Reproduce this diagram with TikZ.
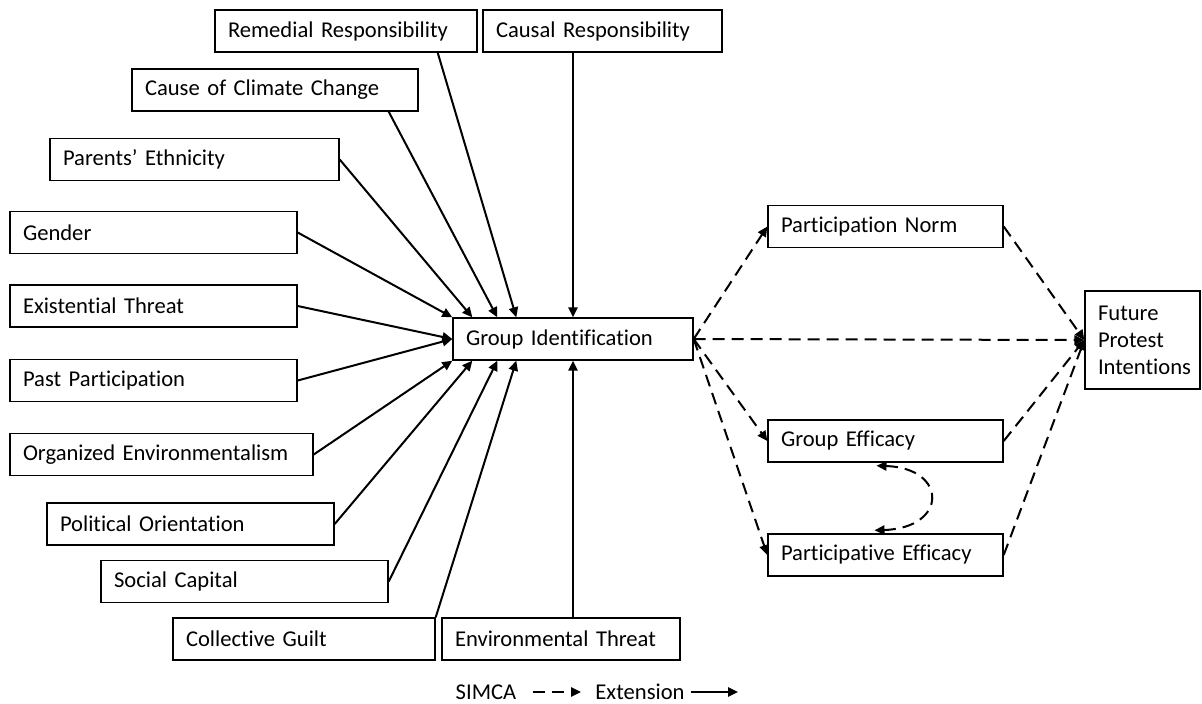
\documentclass[tikz,border=0pt]{standalone}
\usepackage{fontspec}
\setmainfont{Carlito}[Ligatures=NoCommon]
\usepackage{tikz}
\usetikzlibrary{arrows.meta,calc}

\tikzset{
  var/.style={draw, line width=0.7pt, inner xsep=6.5pt, inner ysep=2pt,
    minimum height=21pt, align=left,
    font=\fontsize{11.3}{13.5}\selectfont},
  ext/.style={line width=1pt, -{Triangle[length=5pt,width=4.6pt]}},
  sim/.style={ext, dash pattern=on 6pt off 3.5pt}
}

\begin{document}
\begin{tikzpicture}[x=0.5pt,y=-0.5pt]
  \useasboundingbox (0,0) rectangle (1202,703);

  % predictors of group identification
  \node[var, text width=118pt] (rem) at (346,31) {Remedial Responsibility};
  \node[var, text width=106.5pt] (causal) at (602.5,31) {Causal Responsibility};
  \node[var, text width=130pt] (ccc) at (275,90) {Cause of Climate Change};
  \node[var, text width=131.5pt] (par) at (194.5,159.5) {Parents’ Ethnicity};
  \node[var, text width=130.5pt] (gender) at (153.5,232.5) {Gender};
  \node[var, text width=130.5pt] (exist) at (153.5,306) {Existential Threat};
  \node[var, text width=130.5pt] (past) at (153.5,380.5) {Past Participation};
  \node[var, text width=138.5pt] (org) at (161.5,454.5) {Organized Environmentalism};
  \node[var, text width=130.5pt] (pol) at (190.5,524) {Political Orientation};
  \node[var, text width=130.5pt] (social) at (244.5,581.5) {Social Capital};
  \node[var, text width=118pt] (guilt) at (304,639) {Collective Guilt};
  \node[var, text width=106pt] (env) at (561,639) {Environmental Threat};

  \node[var, text width=107pt] (gi) at (573,339) {Group Identification};

  % SIMCA part
  \node[var, text width=104.5pt] (pn) at (885.5,226.5) {Participation Norm};
  \node[var, text width=104.5pt] (ge) at (885.5,441) {Group Efficacy};
  \node[var, text width=104.5pt] (pe) at (885.5,555) {Participative Efficacy};
  \node[var, text width=44.5pt, minimum height=49pt] (fpi) at (1142.5,340)
    {Future\\Protest\\Intentions};

  % extension arrows
  \draw[ext] ($(rem.south east)+(-40,0)$) -- ($(gi.north west)+(64,0)$);
  \draw[ext] (causal.south -| gi.north) -- (gi.north);
  \draw[ext] ($(ccc.south east)+(-30,0)$) -- ($(gi.north west)+(45,0)$);
  \draw[ext] (par.east) -- ($(gi.north west)+(20,0)$);
  \draw[ext] (gender.east) -- (gi.north west);
  \draw[ext] (exist.east) -- (gi.west);
  \draw[ext] (past.east) -- (gi.west);
  \draw[ext] (org.east) -- (gi.south west);
  \draw[ext] (pol.east) -- ($(gi.south west)+(20,0)$);
  \draw[ext] (social.east) -- ($(gi.south west)+(45,0)$);
  \draw[ext] (guilt.north east) -- ($(gi.south west)+(64,0)$);
  \draw[ext] (env.north -| gi.south) -- (gi.south);

  % SIMCA arrows
  \draw[sim] (gi.east) -- (pn.west);
  \draw[sim] (gi.east) -- (ge.west);
  \draw[sim] (gi.east) -- (pe.west);
  \draw[sim] (gi.east) -- (fpi.west);
  \draw[sim] (pn.east) -- (fpi.west);
  \draw[sim] (ge.east) -- (fpi.west);
  \draw[sim] (pe.east) -- (fpi.west);
  \draw[sim, {Triangle[length=5pt,width=4.6pt]}-{Triangle[length=5pt,width=4.6pt]}]
    ($(ge.south)+(-9,3)$) .. controls (948,468) and (948,528) .. ($(pe.north)+(-11,-3)$);

  % legend
  \node[font=\fontsize{11.3}{13.5}\selectfont, inner sep=0pt] (simca) at (486,692) {SIMCA};
  \node[font=\fontsize{11.3}{13.5}\selectfont, inner sep=0pt] (extn) at (640,692) {Extension};
  \coordinate (legend end) at (738,692);
  \draw[sim] ([xshift=8pt]simca.east) -- ([xshift=-7pt]extn.west);
  \draw[ext] ([xshift=3pt]extn.east) -- (legend end);
\end{tikzpicture}
\end{document}
